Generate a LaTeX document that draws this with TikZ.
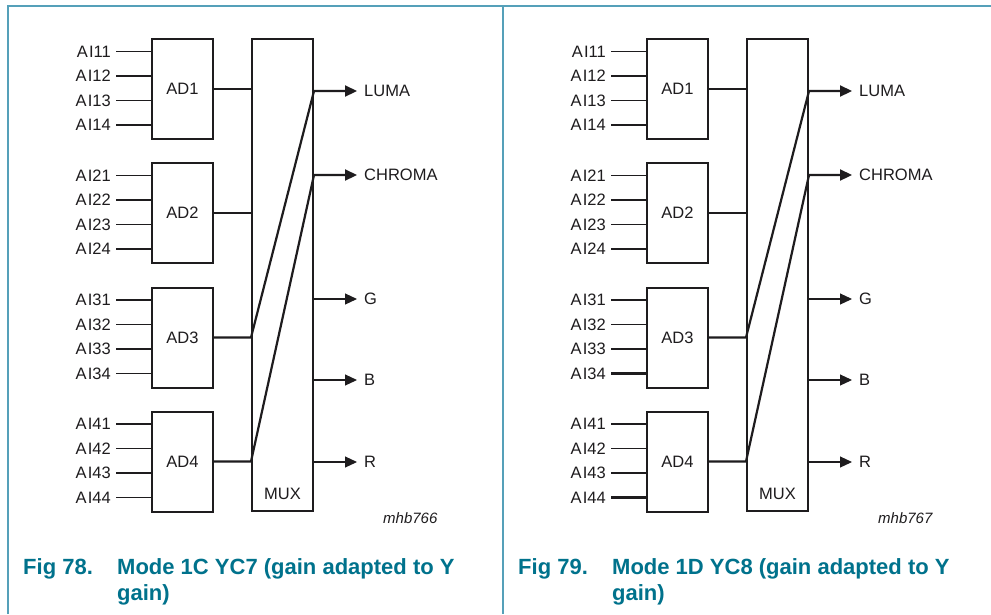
\documentclass[tikz,border=0pt]{standalone}
\usepackage{fontspec}
\setmainfont{Liberation Sans}
\usetikzlibrary{arrows.meta}
\definecolor{capcol}{RGB}{0,114,140}
\definecolor{framecol}{RGB}{85,160,185}
\definecolor{ink}{RGB}{30,28,30}
\tikzset{
  adbox/.style={draw=ink, line width=2pt, minimum width=61pt, minimum height=100pt, inner sep=0pt, font=\fontsize{16.5}{18}\selectfont, text=ink},
  muxbox/.style={draw=ink, line width=2pt, minimum width=61pt, minimum height=472pt, inner sep=0pt},
  inlbl/.style={anchor=east, inner xsep=5pt, inner ysep=0pt, font=\fontsize{16.5}{18}\selectfont, text=ink},
  outlbl/.style={anchor=west, inner xsep=7pt, inner ysep=0pt, font=\fontsize{16.5}{18}\selectfont, text=ink},
  thinw/.style={draw=ink, line width=1.1pt},
  thickw/.style={draw=ink, line width=2.2pt},
  tip/.style={-{Triangle[length=12pt,width=11pt]}},
  capfig/.style={anchor=base west, inner sep=0pt, font=\fontsize{22}{26}\bfseries\selectfont, text=capcol},
  idlbl/.style={anchor=base west, inner sep=0pt, font=\fontsize{15}{17}\itshape\selectfont, text=ink},
  framel/.style={draw=framecol, line width=1.5pt}
}
% #1 prefix, #2 xshift, #3 thick row, #4 fig, #5 mode text, #6 id
\newcommand\drawpanel[6]{%
\begin{scope}[xshift=#2]
  \node[adbox] (#1ad1) at (182.5,89) {AD1};
  \node[adbox] (#1ad2) at (182.5,213) {AD2};
  \node[adbox] (#1ad3) at (182.5,337.5) {AD3};
  \node[adbox] (#1ad4) at (182.5,461.5) {AD4};
  \node[muxbox] (#1mux) at (282.5,275) {};
  \node[font=\fontsize{16.5}{18}\selectfont, text=ink, inner sep=0pt] (#1muxl) at (282.5,494) {MUX};
  \foreach \bx/\cy in {1/89,2/213,3/337.5,4/461.5}{
    \foreach \rw/\dy in {1/-37.5,2/-13,3/11.5,4/36}{
      \node[inlbl] (#1i\bx\rw) at (116,\cy+\dy) {A\kern1.2pt I\bx\rw};
      \def\wst{thinw}%
      \ifnum\bx>2 \ifnum\rw=#3 \def\wst{thickw}\fi\fi
      \draw[\wst] (#1i\bx\rw.east) -- (#1i\bx\rw.east -| #1ad\bx.west);
    }
  }
  \node[outlbl] (#1luma) at (357,91) {LUMA};
  \node[outlbl] (#1chroma) at (357,175) {CHROMA};
  \node[outlbl] (#1g) at (357,299) {G};
  \node[outlbl] (#1b) at (357,380) {B};
  \node[outlbl] (#1r) at (357,462) {R};
  \draw[thinw] (#1ad1.east) -- (#1ad1.east -| #1mux.west);
  \draw[thinw] (#1ad2.east) -- (#1ad2.east -| #1mux.west);
  \draw[thickw, tip] (#1ad3.east) -- (#1ad3.east -| #1mux.west) -- (#1luma.west -| #1mux.east) -- (#1luma.west);
  \draw[thickw, tip] (#1ad4.east) -- (#1ad4.east -| #1mux.west) -- (#1chroma.west -| #1mux.east) -- (#1chroma.west);
  \draw[thinw, tip] (#1g.west -| #1mux.east) -- (#1g.west);
  \draw[thinw, tip] (#1b.west -| #1mux.east) -- (#1b.west);
  \draw[thinw, tip] (#1r.west -| #1mux.east) -- (#1r.west);
  \node[idlbl] (#1id) at (383,523) {#6};
  \node[capfig] (#1fig) at (23,574) {Fig #4.};
  \node[capfig] (#1cap1) at (117,574) {#5};
  \node[capfig] (#1cap2) at (117,600) {gain)};
\end{scope}}
\begin{document}
\begin{tikzpicture}[x=1pt,y=-1pt]
  \useasboundingbox (0,0) rectangle (991,614);
  \fill[white] (0,0) rectangle (991,614);
  \coordinate (ftl) at (8,6);
  \coordinate (ftr) at (991,6);
  \coordinate (fbl) at (8,614);
  \coordinate (fmt) at (503,6);
  \coordinate (fmb) at (503,614);
  \draw[framel] (fbl) -- (ftl) -- (ftr);
  \draw[framel] (fmt) -- (fmb);
  \drawpanel{L}{0pt}{3}{78}{Mode 1C YC7 (gain adapted to Y}{mhb766}
  \drawpanel{R}{495pt}{4}{79}{Mode 1D YC8 (gain adapted to Y}{mhb767}
\end{tikzpicture}
\end{document}
